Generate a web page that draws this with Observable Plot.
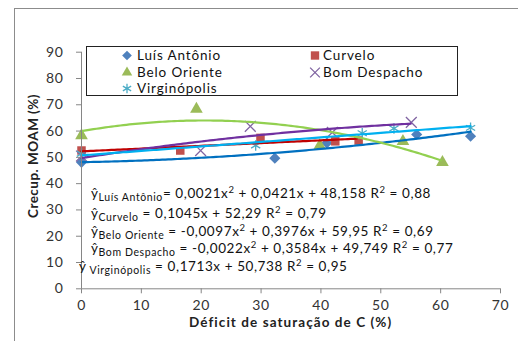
<!DOCTYPE html>
<html><head><meta charset="utf-8">
<script src="https://cdn.jsdelivr.net/npm/d3@7"></script>
<script src="https://cdn.jsdelivr.net/npm/@observablehq/plot@0.6"></script>
<style>
body{margin:0;background:#fff;font-family:Lato,"Open Sans",sans-serif;}
#wrap{position:relative;width:518px;height:341px;overflow:hidden;background:#fff;}
#frame{position:absolute;left:14px;top:8px;width:600px;height:400px;border-top:1.5px solid #8c8c8c;border-left:1.5px solid #8c8c8c;}
#chart{position:absolute;left:0;top:0;}
#legend{position:absolute;left:86px;top:46px;width:370px;height:48px;border:1.3px solid #222;background:#fff;}
.li{position:absolute;font-size:13.5px;line-height:14px;height:14px;white-space:nowrap;color:#111;}
.lm{position:absolute;}
.eq{position:absolute;font-size:13.5px;white-space:nowrap;color:#111;line-height:14px;height:14px;}
.eq sub{font-size:10.5px;vertical-align:-3px;line-height:0;}
.eq sup{font-size:9.5px;vertical-align:5px;line-height:0;}
.ttl{position:absolute;font-size:13.5px;font-weight:bold;color:#222;white-space:nowrap;line-height:15px;}
</style></head><body>
<div id="wrap"><div id="frame"></div></div>
<script>
// Series names
const seriesNames = ["Luís Antônio", "Curvelo", "Belo Oriente", "Bom Despacho", "Virginópolis"];
// Observed points
const luisX = [0, 32.3, 41, 56, 65];
const luisY = [48.1, 49.7, 55.5, 58.7, 58.0];
const curveloX = [0, 16.5, 29.9, 42.4, 46.3];
const curveloY = [52.6, 52.6, 57.4, 56.1, 56.4];
const beloX = [0, 19.2, 39.8, 53.7, 60.3];
const beloY = [58.3, 68.4, 54.5, 56.1, 48.1];
const bomX = [0, 19.9, 28.2, 41.9, 55.1];
const bomY = [50.5, 52.6, 61.8, 59.5, 63.3];
const virgX = [0, 29.1, 46.9, 52.2, 65];
const virgY = [51.4, 54.5, 59.2, 61.0, 61.2];
// Trend equations shown in the chart: a x^2 + b x + c, fitted over [0, xmax]
const trendA = [0.0021, 0, -0.0097, -0.0022, 0];
const trendB = [0.0421, 0.1045, 0.3976, 0.3584, 0.1713];
const trendC = [48.158, 52.29, 59.95, 49.749, 50.738];
const trendXmax = [65, 46.3, 60.3, 55.1, 65];
// Equation texts
const eqSubs = ["Luís Antônio", "Curvelo", "Belo Oriente", "Bom Despacho", " Virginópolis"];
const eqBodies = [
  "= 0,0021x<sup>2</sup> + 0,0421x + 48,158 R<sup>2</sup> = 0,88",
  " = 0,1045x + 52,29 R<sup>2</sup> = 0,79",
  " = -0,0097x<sup>2</sup> + 0,3976x + 59,95 R<sup>2</sup> = 0,69",
  " = -0,0022x<sup>2</sup> + 0,3584x + 49,749 R<sup>2</sup> = 0,77",
  " = 0,1713x + 50,738 R<sup>2</sup> = 0,95"
];
// Ticks
const xTicks = [0, 10, 20, 30, 40, 50, 60, 70];
const yTicks = [0, 10, 20, 30, 40, 50, 60, 70, 80, 90];
const xTitle = "Déficit de saturação de C (%)";
const yTitle = "Crecup. MOAM (%)";

const markerFill = ["#4F81BD", "#C0504D", "#9BBB59", "#8064A2", "#4BACC6"];
const lineColor = ["#0070C0", "#C00000", "#92D050", "#7030A0", "#00B0F0"];
const symbols = ["diamond2", "square", "triangle", "times", "asterisk"];
const radii = [5.0, 4.8, 4.7, 5.0, 5.0];
const filled = [true, true, true, false, false];

const xs = [luisX, curveloX, beloX, bomX, virgX];
const ys = [luisY, curveloY, beloY, bomY, virgY];
const pts = xs.map((X, i) => X.map((x, j) => ({x, y: ys[i][j]})));
const trends = trendA.map((a, i) => d3.range(0, trendXmax[i] + 0.001, 0.5).map(x => ({x, y: a*x*x + trendB[i]*x + trendC[i]})));

const marks = [];
pts.forEach((d, i) => {
  marks.push(Plot.dot(d, filled[i]
    ? {x: "x", y: "y", symbol: symbols[i], r: radii[i], fill: markerFill[i], stroke: "none"}
    : {x: "x", y: "y", symbol: symbols[i], r: radii[i], stroke: markerFill[i], strokeWidth: 1.3, fill: "none"}));
});
trends.forEach((d, i) => {
  marks.push(Plot.line(d, {x: "x", y: "y", stroke: lineColor[i], strokeWidth: 2.2, curve: "linear"}));
});
marks.push(Plot.ruleY([0], {stroke: "#868686"}));
marks.push(Plot.ruleX([0], {stroke: "#868686"}));
marks.push(Plot.axisX({ticks: xTicks, tickSize: 5, tickPadding: 6, stroke: "#868686", fill: "#333", fontSize: 14, label: null, tickFormat: d => String(d)}));
marks.push(Plot.axisY({ticks: yTicks, tickSize: 5, tickPadding: 13, stroke: "#868686", fill: "#333", fontSize: 14, label: null, tickFormat: d => String(d)}));

const chart = Plot.plot({
  width: 518, height: 341,
  marginLeft: 81, marginRight: 18, marginTop: 51.7, marginBottom: 52.7,
  x: {domain: [0, 70]}, y: {domain: [0, 90]},
  style: {fontFamily: "Lato", background: "transparent", overflow: "visible", letterSpacing: "0.6px"},
  marks
});
chart.id = "chart";
const wrap = document.getElementById("wrap");
wrap.appendChild(chart);

// fit text width by letter-spacing
function fitSpacing(el, target) {
  el.style.letterSpacing = "0px";
  const w = el.getBoundingClientRect().width;
  const n = el.textContent.length;
  const ls = (target - w) / n;
  el.style.letterSpacing = ls + "px";
  return ls;
}

// Legend
const legend = document.createElement("div");
legend.id = "legend";
wrap.appendChild(legend);
const legPos = [[50, 1], [236, 1], [50, 17.5], [236, 17.5], [50, 33.5]];
const legMarkX = [40, 228, 40, 228, 40];
const typeMap = {diamond2: d3.symbolDiamond2, square: d3.symbolSquare, triangle: d3.symbolTriangle, times: d3.symbolTimes, asterisk: d3.symbolAsterisk};
const legSize = [60, 70, 48, 64, 64];
let legLS = null;
seriesNames.forEach((name, i) => {
  const s = d3.create("svg").attr("class", "lm").attr("width", 12).attr("height", 12)
    .style("left", (legMarkX[i] - 6) + "px").style("top", (legPos[i][1] + 1) + "px");
  const p = s.append("path").attr("transform", "translate(6,6.5)")
    .attr("d", d3.symbol(typeMap[symbols[i]], legSize[i])());
  if (filled[i]) p.attr("fill", markerFill[i]); else p.attr("fill", "none").attr("stroke", markerFill[i]).attr("stroke-width", 1.3);
  legend.appendChild(s.node());
  const item = document.createElement("div");
  item.className = "li";
  item.style.left = legPos[i][0] + "px";
  item.style.top = legPos[i][1] + "px";
  item.textContent = name;
  legend.appendChild(item);
  if (i === 0) legLS = fitSpacing(item, 84); else item.style.letterSpacing = legLS + "px";
});

// Equations
const eqCenters = [194, 214, 231.5, 249, 266.5];
const eqLeft = [91, 91, 91, 91, 79];
let eqLS = null;
eqSubs.forEach((sub, i) => {
  const e = document.createElement("div");
  e.className = "eq";
  e.style.left = eqLeft[i] + "px";
  e.style.top = (eqCenters[i] - 8) + "px";
  e.innerHTML = "ŷ<sub>" + sub + "</sub>" + eqBodies[i];
  wrap.appendChild(e);
  if (i === 0) eqLS = fitSpacing(e, 340); else e.style.letterSpacing = eqLS + "px";
});

// Axis titles
const xt = document.createElement("div");
xt.className = "ttl";
xt.textContent = xTitle;
wrap.appendChild(xt);
fitSpacing(xt, 203);
xt.style.left = "189px"; xt.style.top = "315px";
const yt = document.createElement("div");
yt.className = "ttl";
yt.textContent = yTitle;
wrap.appendChild(yt);
fitSpacing(yt, 124);
yt.style.left = "33px"; yt.style.top = "156px"; yt.style.transform = "translate(-50%,-50%) rotate(-90deg)";
</script>
</body></html>
